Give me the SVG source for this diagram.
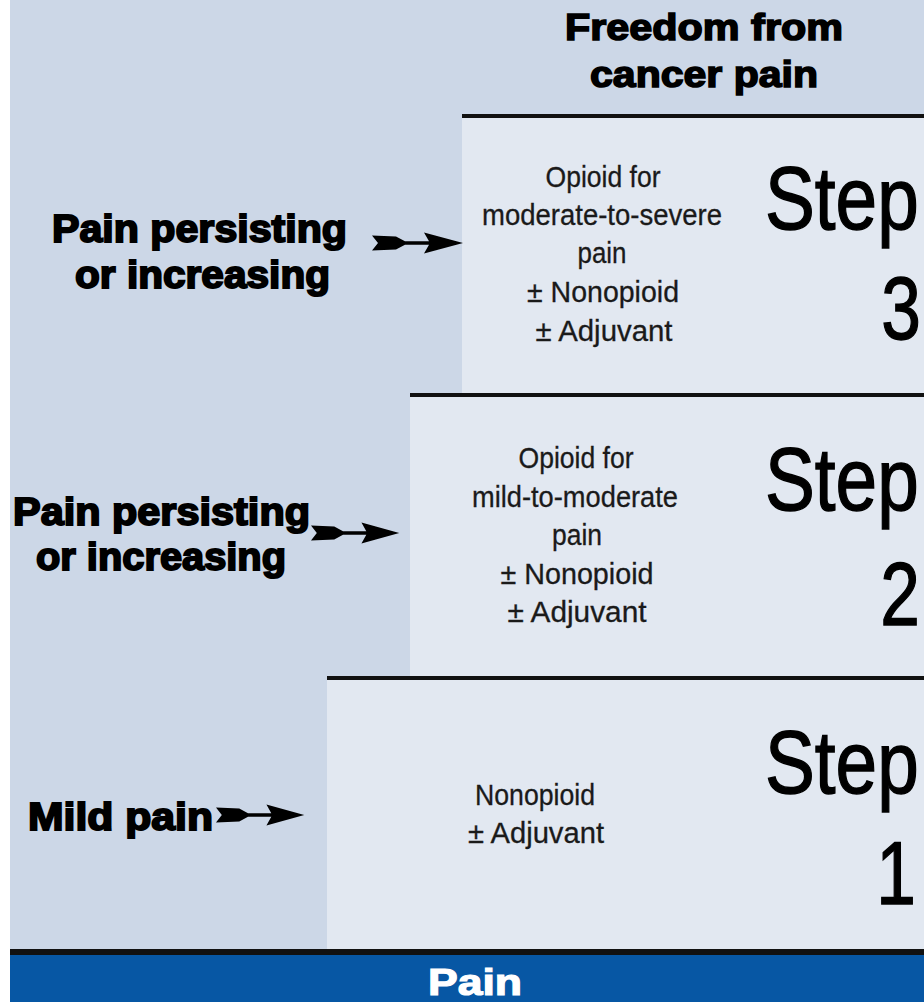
<svg xmlns="http://www.w3.org/2000/svg" xmlns:xlink="http://www.w3.org/1999/xlink" width="924" height="1002" viewBox="0 0 924 1002">
  <style>
    .bg { fill: #ccd7e7; }
    .box { fill: #e2e8f1; }
    .rule { fill: #111111; }
    .head { font-family: "Liberation Sans", Arial, sans-serif; font-weight: 900; font-size: 37px; fill: #000; stroke: #000; stroke-width: 1.6px; }
    .lbl { font-family: "Liberation Sans", Arial, sans-serif; font-weight: 900; font-size: 38px; fill: #000; stroke: #000; stroke-width: 1.9px; }
    .body { font-family: "Liberation Sans", Arial, sans-serif; font-size: 29px; fill: #1a1a1a; stroke: #1a1a1a; stroke-width: 0.3px; }
    .step { font-family: "Liberation Sans", Arial, sans-serif; font-size: 89px; fill: #000; stroke: #000; stroke-width: 1.4px; }
    .pain { font-family: "Liberation Sans", Arial, sans-serif; font-weight: 900; font-size: 37px; fill: #fff; stroke: #fff; stroke-width: 1.2px; }
    .arrow { fill: #000; }
  </style>
  <defs>
    <path id="fletch" d="M0,-7.5 L24,-6.5 L33,-1.8 L57,-1.8 L52,-10.5 L91,0 L52,10.5 L57,1.8 L33,1.8 L24,6.5 L0,7.5 L6,0 Z"/>
  </defs>

  <rect x="0" y="0" width="924" height="1002" fill="#ffffff"/>
  <rect class="bg" x="10" y="0" width="914" height="1002"/>

  <g id="heading">
    <text class="head" x="565" y="40" textLength="278" lengthAdjust="spacingAndGlyphs">Freedom from</text>
    <text class="head" x="590" y="87" textLength="228" lengthAdjust="spacingAndGlyphs">cancer pain</text>
  </g>

  <g id="step3">
    <rect class="box" x="462" y="116" width="462" height="279"/>
    <rect class="rule" x="462" y="114" width="462" height="4"/>
    <text class="body" x="603" y="187" text-anchor="middle" textLength="115" lengthAdjust="spacingAndGlyphs">Opioid for</text>
    <text class="body" x="602" y="225" text-anchor="middle" textLength="240" lengthAdjust="spacingAndGlyphs">moderate-to-severe</text>
    <text class="body" x="602" y="263" text-anchor="middle" textLength="49" lengthAdjust="spacingAndGlyphs">pain</text>
    <text class="body" x="603" y="302" text-anchor="middle" textLength="152" lengthAdjust="spacingAndGlyphs">± Nonopioid</text>
    <text class="body" x="604" y="341" text-anchor="middle" textLength="137" lengthAdjust="spacingAndGlyphs">± Adjuvant</text>
    <text class="step" transform="translate(765,229) scale(0.84,1)">Step</text>
    <text class="step" transform="translate(901,339) scale(0.8,1)" text-anchor="middle">3</text>
  </g>

  <g id="step2">
    <rect class="box" x="410" y="395" width="514" height="283"/>
    <rect class="rule" x="410" y="393" width="514" height="4"/>
    <text class="body" x="576" y="468" text-anchor="middle" textLength="115" lengthAdjust="spacingAndGlyphs">Opioid for</text>
    <text class="body" x="575" y="507" text-anchor="middle" textLength="206" lengthAdjust="spacingAndGlyphs">mild-to-moderate</text>
    <text class="body" x="577" y="545" text-anchor="middle" textLength="50" lengthAdjust="spacingAndGlyphs">pain</text>
    <text class="body" x="577" y="584" text-anchor="middle" textLength="153" lengthAdjust="spacingAndGlyphs">± Nonopioid</text>
    <text class="body" x="577" y="622" text-anchor="middle" textLength="139" lengthAdjust="spacingAndGlyphs">± Adjuvant</text>
    <text class="step" transform="translate(765,510) scale(0.84,1)">Step</text>
    <text class="step" transform="translate(900,625) scale(0.8,1)" text-anchor="middle">2</text>
  </g>

  <g id="step1">
    <rect class="box" x="327" y="678" width="597" height="272"/>
    <rect class="rule" x="327" y="676" width="597" height="4"/>
    <text class="body" x="535" y="805" text-anchor="middle" textLength="120" lengthAdjust="spacingAndGlyphs">Nonopioid</text>
    <text class="body" x="536" y="843" text-anchor="middle" textLength="136" lengthAdjust="spacingAndGlyphs">± Adjuvant</text>
    <text class="step" transform="translate(765,793) scale(0.84,1)">Step</text>
    <text class="step" transform="translate(896,904) scale(0.8,1)" text-anchor="middle">1</text>
  </g>

  <g id="label-step3">
    <text class="lbl" x="52" y="242" textLength="295" lengthAdjust="spacingAndGlyphs">Pain persisting</text>
    <text class="lbl" x="75" y="288" textLength="255" lengthAdjust="spacingAndGlyphs">or increasing</text>
  </g>

  <g id="label-step2">
    <text class="lbl" x="13" y="525" textLength="297" lengthAdjust="spacingAndGlyphs">Pain persisting</text>
    <text class="lbl" x="36" y="570" textLength="250" lengthAdjust="spacingAndGlyphs">or increasing</text>
  </g>

  <g id="label-step1">
    <text class="lbl" x="28" y="830" textLength="185" lengthAdjust="spacingAndGlyphs">Mild pain</text>
  </g>

  <g id="pain-bar">
    <rect class="rule" x="10" y="949" width="914" height="6"/>
    <rect x="10" y="955" width="914" height="47" fill="#0757a4"/>
    <text class="pain" x="428" y="995" textLength="94" lengthAdjust="spacingAndGlyphs">Pain</text>
  </g>

  <g id="connectors">
    <use xlink:href="#fletch" href="#fletch" class="arrow" transform="translate(372,243)"/>
    <use xlink:href="#fletch" href="#fletch" class="arrow" transform="translate(311,533) scale(0.97,1)"/>
    <use xlink:href="#fletch" href="#fletch" class="arrow" transform="translate(216,815) scale(0.97,1)"/>
  </g>
</svg>
